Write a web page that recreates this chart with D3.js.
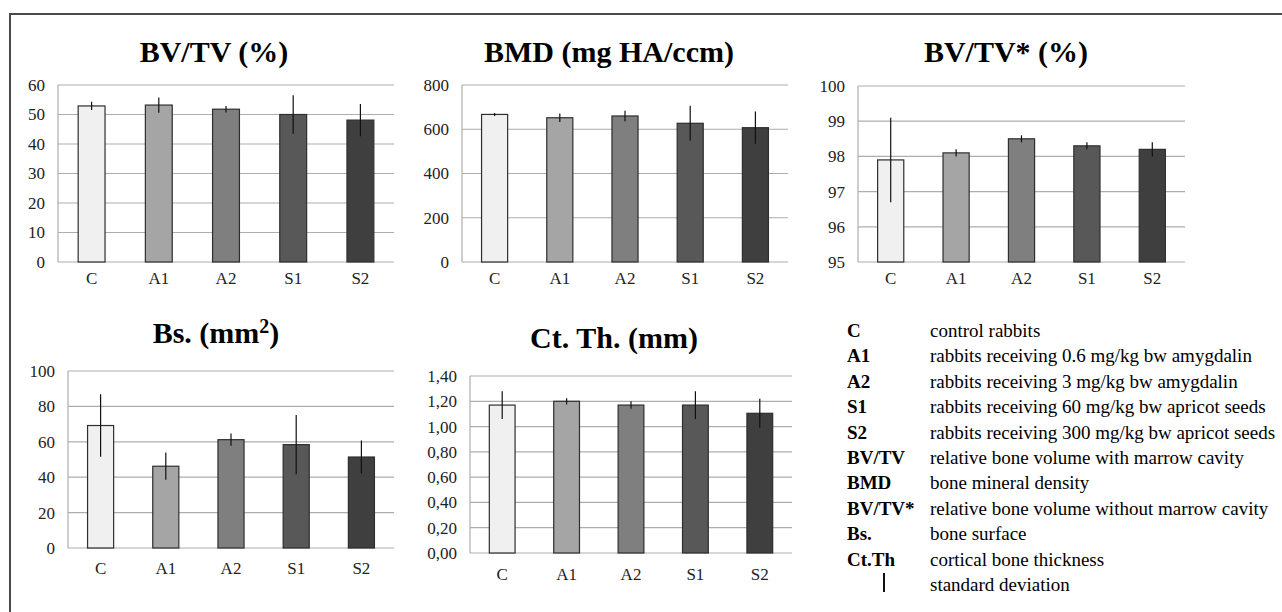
<!DOCTYPE html>
<html>
<head>
<meta charset="utf-8">
<script src="https://cdn.jsdelivr.net/npm/d3@7"></script>
<style>
  body { margin: 0; background: #fff; }
  svg { display: block; font-family: "Liberation Serif", "Times New Roman", serif; }
  .tick text { fill: #222; }
</style>
</head>
<body>
<div class="chart"></div>
<script>
// groups along x
const groups = ["C", "A1", "A2", "S1", "S2"];
const barColors = ["#f0f0f0", "#a5a5a5", "#7f7f7f", "#585858", "#3f3f3f"];

// mean values + standard deviations
const bvtvMean = [52.9, 53.2, 51.8, 50.0, 48.1];
const bvtvSd = [1.4, 2.6, 1.1, 6.5, 5.5];
const bmdMean = [667, 652, 660, 627, 607];
const bmdSd = [7, 19, 24, 79, 73];
const bvtvStarMean = [97.9, 98.1, 98.5, 98.3, 98.2];
const bvtvStarSd = [1.2, 0.1, 0.1, 0.1, 0.2];
const bsMean = [69.2, 46.2, 61.2, 58.4, 51.4];
const bsSd = [17.7, 7.7, 3.5, 16.7, 9.3];
const ctMean = [1.17, 1.2, 1.17, 1.17, 1.105];
const ctSd = [0.11, 0.025, 0.03, 0.11, 0.115];

// tick labels
const bvtvTicks = [0, 10, 20, 30, 40, 50, 60];
const bmdTicks = [0, 200, 400, 600, 800];
const bvtvStarTicks = [95, 96, 97, 98, 99, 100];
const bsTicks = [0, 20, 40, 60, 80, 100];
const ctTicks = [0, 0.2, 0.4, 0.6, 0.8, 1.0, 1.2, 1.4];

// legend rows
const legendKeys = ["C", "A1", "A2", "S1", "S2", "BV/TV", "BMD", "BV/TV*", "Bs.", "Ct.Th", ""];
const legendTexts = [
  "control rabbits",
  "rabbits receiving 0.6 mg/kg bw amygdalin",
  "rabbits receiving 3 mg/kg bw amygdalin",
  "rabbits receiving 60 mg/kg bw apricot seeds",
  "rabbits receiving 300 mg/kg bw apricot seeds",
  "relative bone volume with marrow cavity",
  "bone mineral density",
  "relative bone volume without marrow cavity",
  "bone surface",
  "cortical bone thickness",
  "standard deviation"
];

const W = 1282, H = 612;
const svg = d3.select(".chart").append("svg").attr("width", W).attr("height", H);

// frame (only top and left edges show in the original)
svg.append("path")
  .attr("d", "M10,612 L10,14 L1282,14")
  .attr("fill", "none")
  .attr("stroke", "#4a4a4a")
  .attr("stroke-width", 2);

const panels = [
  { title: "BV/TV (%)", mean: bvtvMean, sd: bvtvSd, ticks: bvtvTicks, domain: [0, 60],
    x0: 58, x1: 394, y0: 85, y1: 262, tx: 214, ty: 62, xpad: 10, fmt: d3.format("d") },
  { title: "BMD (mg HA/ccm)", mean: bmdMean, sd: bmdSd, ticks: bmdTicks, domain: [0, 800],
    x0: 462, x1: 788, y0: 85, y1: 262, tx: 609, ty: 62, xpad: 10, fmt: d3.format("d") },
  { title: "BV/TV* (%)", mean: bvtvStarMean, sd: bvtvStarSd, ticks: bvtvStarTicks, domain: [95, 100],
    x0: 858, x1: 1185, y0: 86, y1: 262, tx: 1006, ty: 62, xpad: 10, fmt: d3.format("d") },
  { title: "Bs. (mm", sup: "2", tail: ")", mean: bsMean, sd: bsSd, ticks: bsTicks, domain: [0, 100],
    x0: 68, x1: 394, y0: 371, y1: 548, tx: 216, ty: 343, xpad: 14, fmt: d3.format("d") },
  { title: "Ct. Th. (mm)", mean: ctMean, sd: ctSd, ticks: ctTicks, domain: [0, 1.4],
    x0: 470, x1: 792, y0: 376, y1: 553, tx: 614, ty: 348, xpad: 15,
    fmt: d => d3.format(".2f")(d).replace(".", ",") }
];

function drawPanel(p) {
  const g = svg.append("g");

  const x = d3.scaleBand().domain(groups).range([p.x0, p.x1]).paddingInner(0.6).paddingOuter(0.3);
  const y = d3.scaleLinear().domain(p.domain).range([p.y1, p.y0]);

  // horizontal gridlines
  g.selectAll(".grid")
    .data(p.ticks)
    .join("line")
    .attr("class", "grid")
    .attr("x1", p.x0).attr("x2", p.x1)
    .attr("y1", d => y(d)).attr("y2", d => y(d))
    .attr("stroke", "#adadad")
    .attr("stroke-width", 1.2);

  // left plot edge
  g.append("line")
    .attr("x1", p.x0).attr("x2", p.x0)
    .attr("y1", p.y0).attr("y2", p.y1)
    .attr("stroke", "#adadad")
    .attr("stroke-width", 1.2);

  // y axis labels
  const yAxis = d3.axisLeft(y).tickValues(p.ticks).tickSize(0).tickPadding(13).tickFormat(p.fmt);
  g.append("g")
    .attr("transform", "translate(" + p.x0 + ",0)")
    .call(yAxis)
    .call(a => a.select(".domain").remove())
    .selectAll("text")
    .style("font-size", "17px")
    .style("font-family", "Liberation Serif, serif");

  // x axis labels
  const xAxis = d3.axisBottom(x).tickSize(0).tickPadding(p.xpad);
  g.append("g")
    .attr("transform", "translate(0," + p.y1 + ")")
    .call(xAxis)
    .call(a => a.select(".domain").remove())
    .selectAll("text")
    .style("font-size", "17px")
    .style("font-family", "Liberation Serif, serif");

  // bars
  const bars = groups.map((k, i) => ({ k, m: p.mean[i], s: p.sd[i], c: barColors[i] }));
  g.selectAll(".bar")
    .data(bars)
    .join("rect")
    .attr("class", "bar")
    .attr("x", d => x(d.k))
    .attr("width", x.bandwidth())
    .attr("y", d => y(d.m))
    .attr("height", d => y(p.domain[0]) - y(d.m))
    .attr("fill", d => d.c)
    .attr("stroke", "#2e2e2e")
    .attr("stroke-width", 1.2);

  // error bars (no caps)
  g.selectAll(".err")
    .data(bars)
    .join("line")
    .attr("class", "err")
    .attr("x1", d => x(d.k) + x.bandwidth() / 2)
    .attr("x2", d => x(d.k) + x.bandwidth() / 2)
    .attr("y1", d => y(d.m + d.s))
    .attr("y2", d => y(Math.max(p.domain[0], d.m - d.s)))
    .attr("stroke", "#111")
    .attr("stroke-width", 1.2);

  // title
  const t = g.append("text")
    .attr("x", p.tx).attr("y", p.ty)
    .attr("text-anchor", "middle")
    .style("font-size", "30px")
    .style("font-weight", "bold")
    .text(p.title);
  if (p.sup) {
    t.append("tspan").attr("dy", -10).style("font-size", "20px").text(p.sup);
    t.append("tspan").attr("dy", 10).text(p.tail);
  }
}

panels.forEach(drawPanel);

// legend
const legend = svg.append("g").attr("transform", "translate(847,337)");
const rowH = 25.4;
legend.selectAll(".key")
  .data(legendKeys)
  .join("text")
  .attr("class", "key")
  .attr("x", 0)
  .attr("y", (d, i) => i * rowH)
  .style("font-size", "19px")
  .style("font-weight", "bold")
  .text(d => d);
legend.selectAll(".desc")
  .data(legendTexts)
  .join("text")
  .attr("class", "desc")
  .attr("x", 83)
  .attr("y", (d, i) => i * rowH)
  .style("font-size", "19px")
  .text(d => d);
// standard deviation marker
legend.append("line")
  .attr("x1", 37).attr("x2", 37)
  .attr("y1", 10 * rowH - 18).attr("y2", 10 * rowH + 1)
  .attr("stroke", "#111")
  .attr("stroke-width", 2);
</script>
</body>
</html>
